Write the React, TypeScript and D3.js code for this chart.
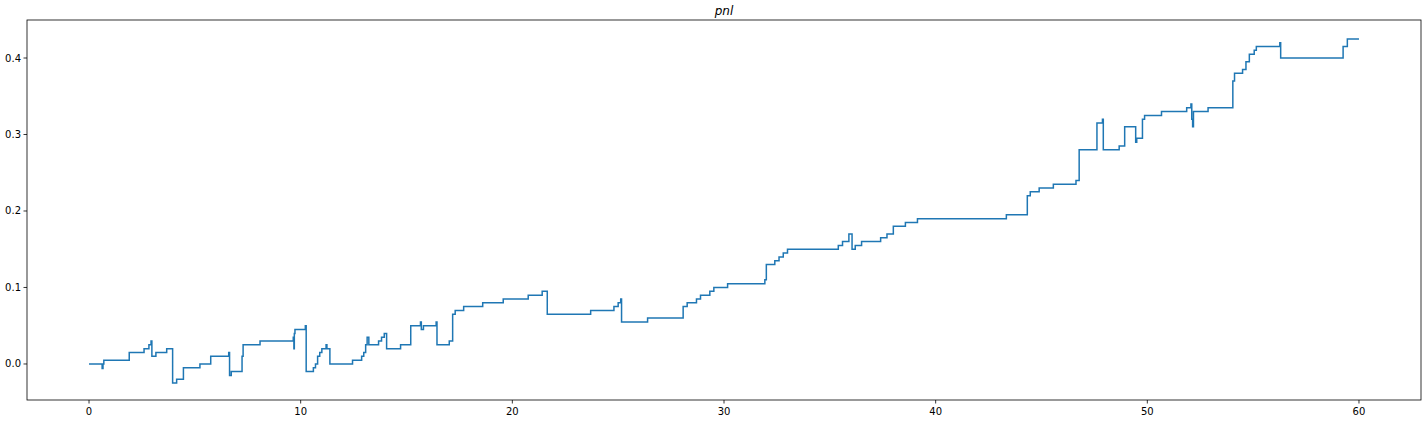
import React from "react";
import * as d3 from "d3";

const xs = [0,0.62,0.66,0.7,1.9,2.6,2.83,2.93,2.97,3.16,3.67,3.95,4.14,4.46,5.24,5.75,6.6,6.64,6.72,7.23,7.28,8.08,9.65,9.68,9.7,9.73,10.22,10.26,10.6,10.7,10.8,10.9,11.0,11.2,11.24,11.38,12.45,12.88,12.98,13.07,13.14,13.22,13.68,13.82,13.95,14.06,14.72,15.2,15.66,15.7,15.8,16.4,16.44,17.02,17.18,17.3,17.7,18.6,19.57,20.75,21.41,21.65,23.7,24.8,25.0,25.12,25.16,26.39,28.07,28.26,28.7,28.89,29.33,29.52,30.17,31.93,32.0,32.4,32.6,32.8,33.0,35.4,35.6,35.9,36.05,36.2,36.5,37.4,37.7,38.0,38.57,39.14,43.34,44.33,44.47,44.89,45.56,46.63,46.78,47.62,47.88,47.92,48.67,48.93,49.45,49.5,49.77,49.87,50.67,51.86,52.06,52.1,52.14,52.18,52.87,54.04,54.12,54.5,54.66,54.82,55.05,55.15,56.26,56.3,59.25,59.45,60.0];
const ys = [0,-0.006,0,0.005,0.015,0.02,0.025,0.03,0.01,0.015,0.02,-0.025,-0.02,-0.005,0,0.01,0.015,-0.015,-0.01,0.01,0.025,0.03,0.035,0.02,0.04,0.045,0.05,-0.01,-0.005,0,0.01,0.015,0.02,0.025,0.02,0,0.005,0.01,0.015,0.025,0.035,0.025,0.03,0.035,0.04,0.02,0.025,0.05,0.055,0.045,0.05,0.055,0.025,0.03,0.065,0.07,0.075,0.08,0.085,0.09,0.095,0.065,0.07,0.075,0.08,0.085,0.055,0.06,0.075,0.08,0.085,0.09,0.095,0.1,0.105,0.11,0.13,0.135,0.14,0.145,0.15,0.155,0.16,0.17,0.15,0.155,0.16,0.165,0.17,0.18,0.185,0.19,0.195,0.22,0.225,0.23,0.235,0.24,0.28,0.315,0.32,0.28,0.285,0.31,0.29,0.295,0.32,0.325,0.33,0.335,0.34,0.32,0.31,0.33,0.335,0.37,0.38,0.385,0.395,0.405,0.41,0.415,0.42,0.4,0.415,0.425,0.425];
const xTicks = [0, 10, 20, 30, 40, 50, 60];
const yTicks = [0, 0.1, 0.2, 0.3, 0.4];
const title = "pnl";

export default function App() {
  const L = 27, R = 1421, T = 20, B = 400;
  const x = d3.scaleLinear().domain([-2.93, 62.93]).range([L, R]);
  const y = d3.scaleLinear().domain([-0.0471, 0.4497]).range([B, T]);
  const pts = xs.map((v, i) => [v, ys[i]] as [number, number]);
  const line = d3.line<[number, number]>().x(d => x(d[0])).y(d => y(d[1])).curve(d3.curveStepAfter);
  const font = "DejaVu Sans, sans-serif";
  return (
    <svg width={1428} height={422} style={{ position: "absolute", left: 0, top: 0, background: "#fff" }}>
      <rect x={0} y={0} width={1428} height={422} fill="#fff" />
      <path d={line(pts) || ""} fill="none" stroke="#1f77b4" strokeWidth={1.5} />
      <rect x={L} y={T} width={R - L} height={B - T} fill="none" stroke="#000" strokeWidth={0.8} />
      {xTicks.map(t => (
        <g key={"x" + t}>
          <line x1={x(t)} x2={x(t)} y1={B} y2={B + 3.5} stroke="#000" strokeWidth={0.8} />
          <text x={x(t)} y={B + 15} fontSize={10} fontFamily={font} textAnchor="middle">{t}</text>
        </g>
      ))}
      {yTicks.map(t => (
        <g key={"y" + t}>
          <line x1={L} x2={L - 3.5} y1={y(t)} y2={y(t)} stroke="#000" strokeWidth={0.8} />
          <text x={L - 6} y={y(t) + 3.5} fontSize={10} fontFamily={font} textAnchor="end">{t.toFixed(1)}</text>
        </g>
      ))}
      <text x={(L + R) / 2} y={15} fontSize={12} fontStyle="italic" fontFamily={font} textAnchor="middle">{title}</text>
    </svg>
  );
}
